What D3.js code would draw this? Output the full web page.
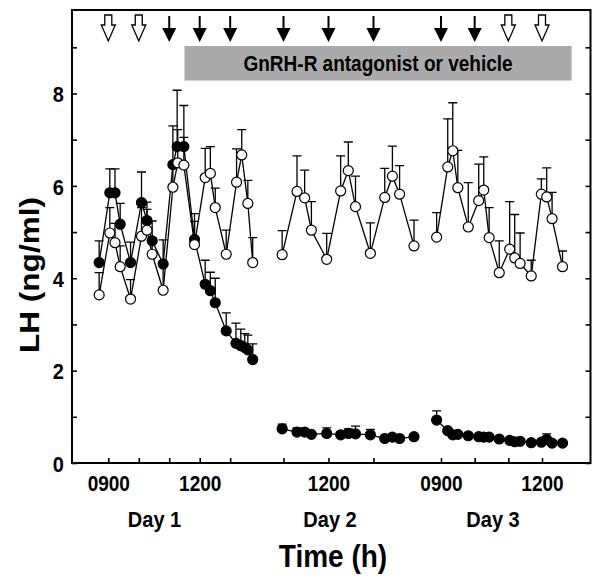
<!DOCTYPE html>
<html>
<head>
<meta charset="utf-8">
<script src="https://cdn.jsdelivr.net/npm/d3@7"></script>
<style>
  body { margin: 0; background: #fff; }
  svg text { font-family: "Liberation Sans", Arial, sans-serif; font-weight: bold; fill: #000; }
</style>
</head>
<body>
<script>
// LH (ng/ml), mean + SEM, sampled by clock hour on each day
const day1VehHours = [8.70, 9.05, 9.22, 9.39, 9.73, 10.09, 10.27, 10.44, 10.80, 11.12, 11.28, 11.48, 11.83, 12.18, 12.35, 12.51, 12.87, 13.21, 13.38, 13.58, 13.74];
const day1Veh = [3.64, 4.98, 4.77, 4.25, 3.55, 4.91, 5.04, 4.52, 3.74, 5.97, 6.50, 6.45, 4.73, 6.18, 6.27, 5.53, 4.52, 6.08, 6.67, 5.62, 4.34];
const day1VehSem = [0.48, 0.55, 0.42, 0.45, 0.42, 0.62, 0.45, 0.35, 0.55, 0.55, 0.72, 0.60, 0.50, 0.63, 0.58, 0.42, 0.52, 0.72, 0.55, 0.50, 0.54];

const day1AntHours = [8.70, 9.05, 9.22, 9.39, 9.73, 10.09, 10.27, 10.44, 10.80, 11.12, 11.26, 11.48, 11.83, 12.18, 12.35, 12.51, 12.87, 13.19, 13.35, 13.48, 13.58, 13.74];
const day1Ant = [4.34, 5.85, 5.85, 5.17, 4.34, 5.64, 5.25, 4.81, 4.31, 6.46, 6.85, 6.85, 4.84, 3.87, 3.73, 3.47, 2.86, 2.59, 2.54, 2.50, 2.45, 2.24];
const day1AntSem = [0.47, 0.52, 0.52, 0.45, 0.44, 0.66, 0.40, 0.43, 0.52, 0.84, 1.22, 0.89, 0.56, 0.52, 0.40, 0.53, 0.39, 0.44, 0.36, 0.30, 0.32, 0.34];

const day2Hours = [10.97, 11.30, 11.47, 11.62, 11.96, 12.27, 12.44, 12.60, 12.93, 13.25, 13.42, 13.58, 13.90];
const day2Veh = [4.51, 5.88, 5.74, 5.04, 4.41, 5.89, 6.33, 5.55, 4.54, 5.75, 6.21, 5.82, 4.70];
const day2VehSem = [0.52, 0.77, 0.60, 0.62, 0.56, 0.76, 0.62, 0.66, 0.66, 0.63, 0.65, 0.62, 0.56];
const day2Ant = [0.74, 0.67, 0.67, 0.62, 0.64, 0.61, 0.64, 0.63, 0.61, 0.53, 0.56, 0.53, 0.57];
const day2AntSem = [0.10, 0.09, 0.05, 0.05, 0.12, 0.05, 0.10, 0.17, 0.12, 0.04, 0.04, 0.04, 0.04];

const day3Hours = [8.87, 9.20, 9.35, 9.50, 9.81, 10.12, 10.27, 10.43, 10.73, 11.04, 11.19, 11.35, 11.68, 11.98, 12.14, 12.30, 12.61];
const day3Veh = [4.89, 6.41, 6.76, 5.96, 5.11, 5.68, 5.91, 4.88, 4.12, 4.63, 4.44, 4.32, 4.05, 5.82, 5.76, 5.29, 4.25];
const day3VehSem = [0.53, 1.04, 1.04, 0.81, 0.96, 0.79, 0.72, 0.65, 0.69, 1.03, 0.94, 0.66, 0.34, 0.33, 0.63, 0.57, 0.34];
const day3Ant = [0.93, 0.70, 0.61, 0.62, 0.59, 0.57, 0.56, 0.56, 0.52, 0.49, 0.46, 0.47, 0.44, 0.45, 0.51, 0.43, 0.43];
const day3AntSem = [0.20, 0.05, 0.04, 0.04, 0.04, 0.04, 0.04, 0.04, 0.03, 0.03, 0.03, 0.03, 0.03, 0.03, 0.12, 0.03, 0.03];

// injection arrows: day, clock hour, open (vehicle) or filled
const arrowDays = [1, 1, 1, 1, 1, 2, 2, 2, 3, 3, 3, 3];
const arrowHours = [9, 10, 11, 12, 13, 11, 12, 13, 9, 10, 11, 12];
const arrowOpen = [true, true, false, false, false, false, false, false, false, false, true, true];

const dayTicks = [[9, 10, 11, 12, 13], [11, 12, 13], [9, 10, 11, 12]];
const dayTickLabels = { 9: '0900', 12: '1200' };
const dayNames = ['Day 1', 'Day 2', 'Day 3'];
const yTicks = [0, 1, 2, 3, 4, 5, 6, 7, 8, 9];

const width = 600;
const height = 578;
const plot = { left: 72, right: 590.5, top: 10, bottom: 463 };
const STRETCH = 1.13; // lettering in the source is a bit taller than wide

const svg = d3.select('body')
  .append('svg')
  .attr('width', width)
  .attr('height', height);

const y = d3.scaleLinear()
  .domain([0, 8])
  .range([plot.bottom, 93.5]);

// each day has its own time axis segment
const dayScales = [
  d3.scaleLinear().domain([9, 12]).range([108.3, 199.7]),
  d3.scaleLinear().domain([11, 13]).range([283.5, 373.5]),
  d3.scaleLinear().domain([9, 12]).range([441, 542])
];
const dayLabelX = [154.5, 330, 493];

const tallText = (x, yPos, size, str) => svg.append('text')
  .attr('transform', `translate(${ x },${ yPos }) scale(1,${ STRETCH })`)
  .attr('text-anchor', 'middle')
  .style('font-size', `${ size }px`)
  .text(str);

// frame
svg.append('rect')
  .attr('x', plot.left)
  .attr('y', plot.top)
  .attr('width', plot.right - plot.left)
  .attr('height', plot.bottom - plot.top)
  .attr('fill', 'none')
  .attr('stroke', '#000')
  .attr('stroke-width', 2);

// y axes (ticks inward)
const yLeft = svg.append('g')
  .attr('transform', `translate(${ plot.left },0)`)
  .call(d3.axisLeft(y).tickValues(yTicks).tickSize(-5).tickPadding(8)
    .tickFormat(d => d % 2 === 0 ? d : ''));
yLeft.select('.domain').remove();
yLeft.selectAll('.tick line').attr('stroke-width', 1.6);
yLeft.selectAll('.tick text')
  .style('font-size', '20px')
  .attr('dy', '0.36em')
  .attr('transform', `scale(1,${ STRETCH })`);

const yRight = svg.append('g')
  .attr('transform', `translate(${ plot.right },0)`)
  .call(d3.axisRight(y).tickValues(yTicks).tickSize(-5).tickFormat(''));
yRight.select('.domain').remove();
yRight.selectAll('.tick line').attr('stroke-width', 1.6);

// x axes, one per day
dayScales.forEach((xs, i) => {
  const g = svg.append('g')
    .attr('transform', `translate(0,${ plot.bottom })`)
    .call(d3.axisBottom(xs).tickValues(dayTicks[i]).tickSize(-5).tickPadding(13)
      .tickFormat(d => dayTickLabels[d] || ''));
  g.select('.domain').remove();
  g.selectAll('.tick line').attr('stroke-width', 1.6);
  g.selectAll('.tick text')
    .style('font-size', '19px')
    .attr('y', 0)
    .attr('transform', `translate(0,13) scale(1,${ STRETCH })`);

  tallText(dayLabelX[i], 527, 20, dayNames[i]);
});

tallText(333, 567, 28, 'Time (h)');

svg.append('text')
  .attr('transform', `translate(39,${ 275 }) rotate(-90) scale(${ STRETCH + 0.04 },1)`)
  .attr('text-anchor', 'middle')
  .style('font-size', '27px')
  .text('LH (ng/ml)');

// treatment bar
const barStart = dayScales[0](11.5);
const barEnd = dayScales[2](12.88);
svg.append('rect')
  .attr('x', barStart)
  .attr('y', 46)
  .attr('width', barEnd - barStart)
  .attr('height', 34.5)
  .attr('fill', '#aaaaaa');
tallText((barStart + barEnd) / 2, 70.5, 19, 'GnRH-R antagonist or vehicle');

// arrows
arrowHours.forEach((h, i) => {
  const x = dayScales[arrowDays[i] - 1](h);
  if (arrowOpen[i]) {
    svg.append('path')
      .attr('d', `M${ x - 3.5 },15 H${ x + 3.5 } V25 H${ x + 7 } L${ x },41 L${ x - 7 },25 H${ x - 3.5 } Z`)
      .attr('fill', '#fff')
      .attr('stroke', '#000')
      .attr('stroke-width', 1.3);
  } else {
    svg.append('line')
      .attr('x1', x).attr('x2', x)
      .attr('y1', 16).attr('y2', 29)
      .attr('stroke', '#000')
      .attr('stroke-width', 2);
    svg.append('path')
      .attr('d', `M${ x - 7 },28 H${ x + 7 } L${ x },42 Z`)
      .attr('fill', '#000');
  }
});

// series
const series = [
  { day: 0, hours: day1AntHours, values: day1Ant, sems: day1AntSem, filled: true },
  { day: 1, hours: day2Hours, values: day2Ant, sems: day2AntSem, filled: true },
  { day: 2, hours: day3Hours, values: day3Ant, sems: day3AntSem, filled: true },
  { day: 0, hours: day1VehHours, values: day1Veh, sems: day1VehSem, filled: false },
  { day: 1, hours: day2Hours, values: day2Veh, sems: day2VehSem, filled: false },
  { day: 2, hours: day3Hours, values: day3Veh, sems: day3VehSem, filled: false }
];

const marks = svg.append('g');

series.forEach(s => {
  const xs = dayScales[s.day];
  const pts = s.hours.map((h, i) => ({ h, v: s.values[i], e: s.sems[i] }));
  const g = marks.append('g');

  g.selectAll('.err')
    .data(pts)
    .enter()
    .append('path')
    .attr('d', d => {
      const x = xs(d.h);
      const top = y(d.v + d.e);
      return `M${ x },${ y(d.v) } V${ top } M${ x - 4.5 },${ top } H${ x + 4.5 }`;
    })
    .attr('fill', 'none')
    .attr('stroke', '#000')
    .attr('stroke-width', 1.3);

  g.append('path')
    .datum(pts)
    .attr('d', d3.line().x(d => xs(d.h)).y(d => y(d.v)))
    .attr('fill', 'none')
    .attr('stroke', '#000')
    .attr('stroke-width', 1.3);

  g.selectAll('circle')
    .data(pts)
    .enter()
    .append('circle')
    .attr('cx', d => xs(d.h))
    .attr('cy', d => y(d.v))
    .attr('r', 5)
    .attr('fill', s.filled ? '#000' : '#fff')
    .attr('stroke', '#000')
    .attr('stroke-width', 1.2);
});
</script>
</body>
</html>
